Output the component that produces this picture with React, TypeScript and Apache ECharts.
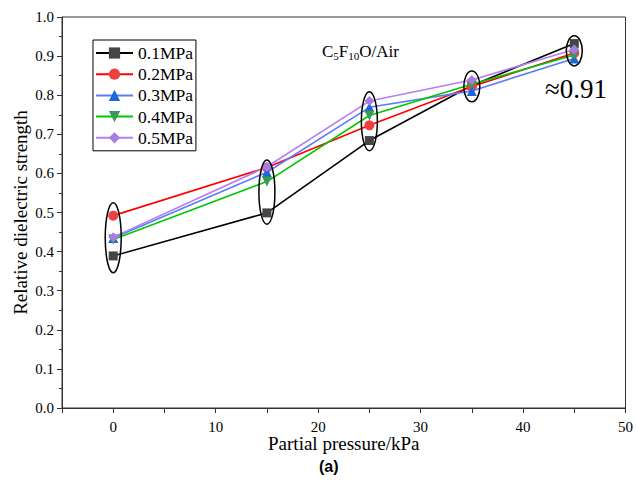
import React, { useEffect, useRef } from "react";
import * as echarts from "echarts";

const pressures = [0, 15, 25, 35, 45];
const seriesNames = ["0.1MPa", "0.2MPa", "0.3MPa", "0.4MPa", "0.5MPa"];
const s01 = [0.389, 0.499, 0.684, 0.825, 0.932];
const s02 = [0.492, 0.615, 0.723, 0.822, 0.908];
const s03 = [0.435, 0.603, 0.769, 0.811, 0.894];
const s04 = [0.431, 0.579, 0.748, 0.828, 0.903];
const s05 = [0.437, 0.617, 0.785, 0.839, 0.917];
const ellipseCenters = [0.4355, 0.552, 0.7335, 0.8225, 0.9135];
const ellipseHalfHeights = [0.0895, 0.082, 0.0755, 0.0395, 0.0385];

const lineColors = ["#000000", "#ff0000", "#5b7cfb", "#00c800", "#b57ff0"];
const markerColors = ["#454545", "#ef4040", "#1c68d8", "#3a9a5a", "#a97de0"];
const symbols = ["rect", "circle", "triangle", "triangle", "diamond"];
const rotations = [0, 0, 0, 180, 0];
const allValues = [s01, s02, s03, s04, s05];

const SERIF = "'Liberation Serif', 'Times New Roman', serif";

export default function App() {
  const ref = useRef<HTMLDivElement>(null);
  useEffect(() => {
    if (!ref.current) return;
    const chart = echarts.init(ref.current, null, { renderer: "svg" });
    const lineSeries = allValues.map((vals, i) => ({
      name: seriesNames[i],
      type: "line",
      data: vals.map((v, j) => [pressures[j], v]),
      symbol: symbols[i],
      symbolSize: i === 0 ? 9 : 10,
      symbolRotate: rotations[i],
      lineStyle: { color: lineColors[i], width: 1.6 },
      itemStyle: { color: markerColors[i] },
      z: 2 + i,
    }));
    const ellipseSeries = {
      type: "custom",
      name: "ellipses",
      data: pressures.map((p, j) => [p, ellipseCenters[j], ellipseHalfHeights[j]]),
      renderItem: (params: any, api: any) => {
        const c = api.coord([api.value(0), api.value(1)]);
        const t = api.coord([api.value(0), api.value(1) + api.value(2)]);
        return {
          type: "ellipse",
          shape: { cx: c[0], cy: c[1], rx: 8, ry: c[1] - t[1] },
          style: { fill: "none", stroke: "#000", lineWidth: 1.5 },
        };
      },
      z: 10,
      silent: true,
    };
    chart.setOption({
      animation: false,
      backgroundColor: "#fff",
      grid: {
        left: 62,
        right: 9,
        top: 17,
        bottom: 76,
        show: true,
        borderColor: "#333",
        borderWidth: 1,
        backgroundColor: "transparent",
      },
      legend: {
        orient: "vertical",
        left: 93,
        top: 40,
        data: seriesNames,
        itemWidth: 37,
        itemHeight: 14,
        itemGap: 3.2,
        padding: [4, 3, 4, 2],
        borderColor: "#000",
        borderWidth: 1,
        textStyle: { fontFamily: SERIF, fontSize: 17.5, color: "#000" },
      },
      xAxis: {
        type: "value",
        min: -5,
        max: 50,
        interval: 5,
        name: "Partial pressure/kPa",
        nameLocation: "middle",
        nameGap: 26,
        nameMoveOverlap: false,
        nameTextStyle: { fontFamily: SERIF, fontSize: 19, color: "#000" },
        axisLine: { show: true, onZero: false, lineStyle: { color: "#333", width: 1 } },
        axisTick: { show: true, inside: false, length: 5, lineStyle: { color: "#333" } },
        axisLabel: {
          fontFamily: SERIF,
          fontSize: 15,
          color: "#000",
          margin: 11,
          formatter: (v: number) => (v % 10 === 0 ? String(v) : ""),
        },
        splitLine: { show: false },
      },
      yAxis: {
        type: "value",
        min: 0,
        max: 1,
        interval: 0.1,
        name: "Relative dielectric strength",
        nameLocation: "middle",
        nameGap: 32,
        nameMoveOverlap: false,
        nameTextStyle: { fontFamily: SERIF, fontSize: 19, color: "#000" },
        axisLine: { show: true, onZero: false, lineStyle: { color: "#333", width: 1 } },
        axisTick: { show: true, inside: false, length: 5, lineStyle: { color: "#333" } },
        minorTick: { show: true, splitNumber: 2, length: 3, lineStyle: { color: "#333" } },
        axisLabel: {
          fontFamily: SERIF,
          fontSize: 15,
          color: "#000",
          margin: 8,
          formatter: (v: number) => v.toFixed(1),
        },
        splitLine: { show: false },
      },
      graphic: [
        {
          type: "text",
          left: 322,
          top: 43,
          style: {
            text: "C{sub|5}F{sub|10}O/Air",
            fontFamily: SERIF,
            fontSize: 17,
            fill: "#000",
            rich: {
              sub: { fontFamily: SERIF, fontSize: 11, verticalAlign: "bottom", padding: [8, 0, 0, 0], fill: "#000" },
            },
          },
        },
        {
          type: "text",
          left: 545,
          top: 75,
          style: { text: "≈0.91", fontFamily: SERIF, fontSize: 27, fill: "#000" },
        },
        {
          type: "text",
          left: 319,
          top: 458,
          style: { text: "(a)", fontFamily: "'Liberation Sans', Arial, sans-serif", fontWeight: "bold", fontSize: 16, fill: "#000" },
        },
      ],
      series: [...lineSeries, ellipseSeries],
    });
    return () => chart.dispose();
  }, []);
  return (
    <div
      ref={ref}
      style={{ position: "fixed", left: 0, top: 0, width: 636, height: 484, background: "#fff" }}
    />
  );
}
